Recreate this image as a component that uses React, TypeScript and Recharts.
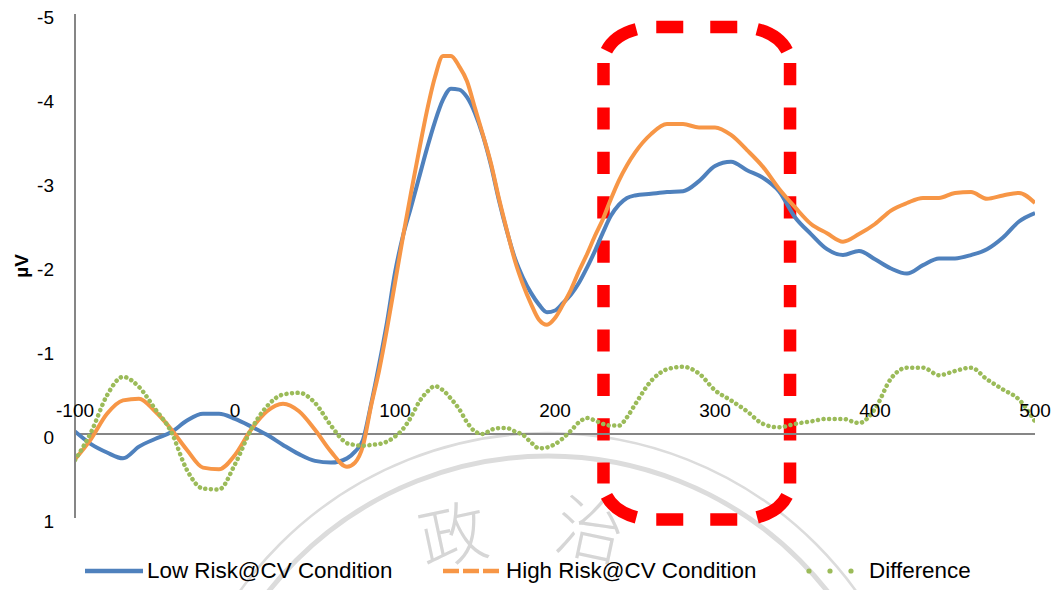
import React from 'react';
import { LineChart, Line, XAxis, YAxis, ReferenceLine, ReferenceDot, ReferenceArea } from 'recharts';

const W = 1062;
const H = 590;
const FONT = '"Liberation Sans", Arial, sans-serif';

// time (ms)
const times = [
  -100, -90, -80, -70, -60, -50, -40, -30, -20, -10, 0, 10, 20, 30, 40, 50, 60, 70,
  75, 80, 85, 90, 95, 100, 105, 110, 115, 120, 125, 130, 135, 140, 145, 150, 155, 160,
  165, 170, 175, 180, 185, 190, 195, 200, 205, 210, 215, 220, 225, 230, 235, 240, 245, 250,
  260, 270, 280, 290, 300, 310, 320, 330, 340, 350, 360, 370, 380, 390, 400, 410, 420, 430,
  440, 450, 460, 470, 480, 490, 500,
];

const lowRisk = [
  -0.03, 0.12, 0.22, 0.29, 0.15, 0.06, -0.02, -0.16, -0.24, -0.24, -0.18, -0.09, 0.01, 0.13, 0.24, 0.32, 0.34, 0.29,
  0.21, 0.07, -0.35, -0.82, -1.33, -1.92, -2.36, -2.70, -3.05, -3.40, -3.72, -3.98, -4.11, -4.10, -4.01, -3.82, -3.55, -3.20,
  -2.78, -2.41, -2.09, -1.86, -1.68, -1.54, -1.45, -1.47, -1.56, -1.66, -1.80, -1.98, -2.18, -2.40, -2.60, -2.73, -2.81, -2.84,
  -2.86, -2.88, -2.89, -3.01, -3.19, -3.24, -3.14, -3.05, -2.89, -2.58, -2.38, -2.20, -2.13, -2.18, -2.08, -1.97, -1.91, -2.01,
  -2.09, -2.09, -2.13, -2.20, -2.34, -2.53, -2.63,
];

const highRisk = [
  0.30, 0.06, -0.24, -0.40, -0.42, -0.27, -0.06, 0.19, 0.40, 0.42, 0.25, -0.05, -0.27, -0.36, -0.27, -0.05, 0.21, 0.39,
  0.34, 0.14, -0.33, -0.75, -1.25, -1.80, -2.35, -2.87, -3.37, -3.85, -4.25, -4.50, -4.50, -4.38, -4.20, -3.88, -3.56, -3.22,
  -2.80, -2.42, -2.06, -1.78, -1.55, -1.36, -1.30, -1.38, -1.54, -1.72, -1.94, -2.14, -2.36, -2.56, -2.80, -3.02, -3.20, -3.35,
  -3.57, -3.69, -3.69, -3.65, -3.65, -3.56, -3.38, -3.18, -2.92, -2.70, -2.50, -2.39, -2.29, -2.38, -2.50, -2.66, -2.75, -2.81,
  -2.81, -2.87, -2.88, -2.80, -2.84, -2.87, -2.75,
];

const difference = [
  0.31, -0.02, -0.46, -0.68, -0.56, -0.30, -0.03, 0.43, 0.65, 0.66, 0.36, -0.05, -0.33, -0.47, -0.49, -0.37, -0.10, 0.11,
  0.13, 0.14, 0.13, 0.12, 0.09, 0.03, -0.06, -0.20, -0.38, -0.50, -0.57, -0.52, -0.42, -0.30, -0.14, -0.03, 0.00, -0.05,
  -0.07, -0.07, -0.03, 0.01, 0.10, 0.17, 0.16, 0.12, 0.05, -0.04, -0.14, -0.19, -0.16, -0.12, -0.10, -0.10, -0.20, -0.35,
  -0.63, -0.77, -0.80, -0.72, -0.52, -0.40, -0.27, -0.12, -0.08, -0.12, -0.15, -0.18, -0.18, -0.13, -0.30, -0.66, -0.79, -0.79,
  -0.70, -0.75, -0.79, -0.65, -0.53, -0.41, -0.15,
];

const xTicks = [-100, 0, 100, 200, 300, 400, 500];
const yTicks = [-5, -4, -3, -2, -1, 0, 1];

const seriesNames = ['Low Risk@CV Condition', 'High Risk@CV Condition', 'Difference'];
const seriesColors = ['#4f81bd', '#f79646', '#9bbb59'];

// highlighted window (ms, µV)
const highlightX = [230.3, 346.9];
const highlightY = [-4.845, 1.018];

const data = times.map((t, i) => ({
  t,
  low: lowRisk[i],
  high: highRisk[i],
  diff: difference[i],
}));

function HighlightBox(props: any) {
  const { x, y, width, height } = props;
  const rx = 50;
  const ry = 36;
  const sw = 12.5;
  const c = '#ff0000';
  const a = (20 * Math.PI) / 180;
  const arc = (cx: number, cy: number, a0: number, a1: number) => {
    const p0x = cx + rx * Math.cos(a0);
    const p0y = cy + ry * Math.sin(a0);
    const p1x = cx + rx * Math.cos(a1);
    const p1y = cy + ry * Math.sin(a1);
    return `M${p0x},${p0y} A${rx},${ry} 0 0 1 ${p1x},${p1y}`;
  };
  const hLen = width - 2 * rx;
  const hOff = 54 - (hLen - 81) / 2;
  const PI = Math.PI;
  return (
    <g>
      <line x1={x} y1={y + ry} x2={x} y2={y + height - ry} stroke={c} strokeWidth={sw} strokeDasharray="22.2 22.2" />
      <line x1={x + width} y1={y + ry} x2={x + width} y2={y + height - ry} stroke={c} strokeWidth={sw} strokeDasharray="22.2 22.2" />
      <line x1={x + rx} y1={y} x2={x + width - rx} y2={y} stroke={c} strokeWidth={sw} strokeDasharray="27 27" strokeDashoffset={hOff} />
      <line x1={x + rx} y1={y + height} x2={x + width - rx} y2={y + height} stroke={c} strokeWidth={sw} strokeDasharray="27 27" strokeDashoffset={hOff} />
      <path d={arc(x + rx, y + ry, PI + a, 1.5 * PI - a)} stroke={c} strokeWidth={sw} fill="none" />
      <path d={arc(x + width - rx, y + ry, 1.5 * PI + a, 2 * PI - a)} stroke={c} strokeWidth={sw} fill="none" />
      <path d={arc(x + width - rx, y + height - ry, a, 0.5 * PI - a)} stroke={c} strokeWidth={sw} fill="none" />
      <path d={arc(x + rx, y + height - ry, 0.5 * PI + a, PI - a)} stroke={c} strokeWidth={sw} fill="none" />
    </g>
  );
}

function LegendBlock() {
  const textStyle: React.CSSProperties = {
    position: 'absolute',
    top: 0,
    fontFamily: FONT,
    fontSize: 22.4,
    lineHeight: '30px',
    color: '#000',
    whiteSpace: 'nowrap',
  };
  return (
    <div style={{ position: 'absolute', left: 0, top: 556, width: W, height: 30 }}>
      <svg width={W} height={30} style={{ position: 'absolute', left: 0, top: 0 }}>
        <line x1={85} y1={15} x2={143} y2={15} stroke={seriesColors[0]} strokeWidth={4.5} />
        <line x1={443} y1={15} x2={499} y2={15} stroke={seriesColors[1]} strokeWidth={4.5} strokeDasharray="16 4" />
        <circle cx={809} cy={15} r={2.6} fill={seriesColors[2]} />
        <circle cx={830} cy={15} r={2.6} fill={seriesColors[2]} />
        <circle cx={851} cy={15} r={2.6} fill={seriesColors[2]} />
      </svg>
      <span style={{ ...textStyle, left: 147 }}>{seriesNames[0]}</span>
      <span style={{ ...textStyle, left: 506 }}>{seriesNames[1]}</span>
      <span style={{ ...textStyle, left: 869 }}>{seriesNames[2]}</span>
    </div>
  );
}

export default function App() {
  return (
    <div style={{ position: 'absolute', left: 0, top: 0, width: W, height: H, background: '#fff', overflow: 'hidden' }}>
      <svg width={W} height={H} style={{ position: 'absolute', left: 0, top: 0 }}>
        <circle cx={548} cy={812} r={379} fill="none" stroke="#dcdcdc" strokeWidth={2.5} />
        <circle cx={548} cy={812} r={356} fill="none" stroke="#dcdcdc" strokeWidth={5} />
        <text x={453} y={560} fontSize={68} fill="#d6d6d6" fontWeight={300} textAnchor="middle"
          fontFamily='"Noto Sans CJK TC", "Noto Sans CJK SC", sans-serif' transform="rotate(-12 453 535)">政</text>
        <text x={590} y={555} fontSize={68} fill="#d6d6d6" fontWeight={300} textAnchor="middle"
          fontFamily='"Noto Sans CJK TC", "Noto Sans CJK SC", sans-serif' transform="rotate(12 590 530)">治</text>
        <text x={28} y={266} fontSize={19} fontWeight="bold" fill="#000" fontFamily={FONT} textAnchor="middle"
          transform="rotate(-90 28 266)">µV</text>
      </svg>
      <div style={{ position: 'absolute', left: 0, top: 0 }}>
        <LineChart width={W} height={H} data={data} margin={{ top: 14, right: 27, bottom: 72, left: 0 }}>
          <XAxis type="number" dataKey="t" domain={[-100, 500]} ticks={xTicks} hide allowDataOverflow />
          <YAxis
            type="number"
            domain={[-5, 1]}
            ticks={yTicks}
            reversed
            interval={0}
            width={75}
            allowDataOverflow
            axisLine={{ stroke: '#868686', strokeWidth: 2 }}
            tickLine={false}
            tickMargin={15}
            tick={{ fill: '#000', fontSize: 19, fontFamily: FONT, dy: 3 }}
          />
          <ReferenceLine y={0} stroke="#868686" strokeWidth={2} />
          {xTicks.map((t) => (
            <ReferenceDot
              key={t}
              x={t}
              y={0}
              r={0}
              fill="none"
              stroke="none"
              label={{ value: String(t), position: 'top', offset: 17, fill: '#000', fontSize: 19, fontFamily: FONT }}
            />
          ))}
          <Line type="monotone" dataKey="low" name={seriesNames[0]} stroke={seriesColors[0]} strokeWidth={4}
            dot={false} activeDot={false} isAnimationActive={false} />
          <Line type="monotone" dataKey="high" name={seriesNames[1]} stroke={seriesColors[1]} strokeWidth={4}
            dot={false} activeDot={false} isAnimationActive={false} />
          <Line type="monotone" dataKey="diff" name={seriesNames[2]} stroke={seriesColors[2]} strokeWidth={4.5}
            strokeDasharray="0.1 5.5" strokeLinecap="round" dot={false} activeDot={false} isAnimationActive={false} />
          <ReferenceArea
            x1={highlightX[0]}
            x2={highlightX[1]}
            y1={highlightY[0]}
            y2={highlightY[1]}
            ifOverflow="visible"
            shape={(p: any) => <HighlightBox {...p} />}
          />
        </LineChart>
      </div>
      <LegendBlock />
    </div>
  );
}
